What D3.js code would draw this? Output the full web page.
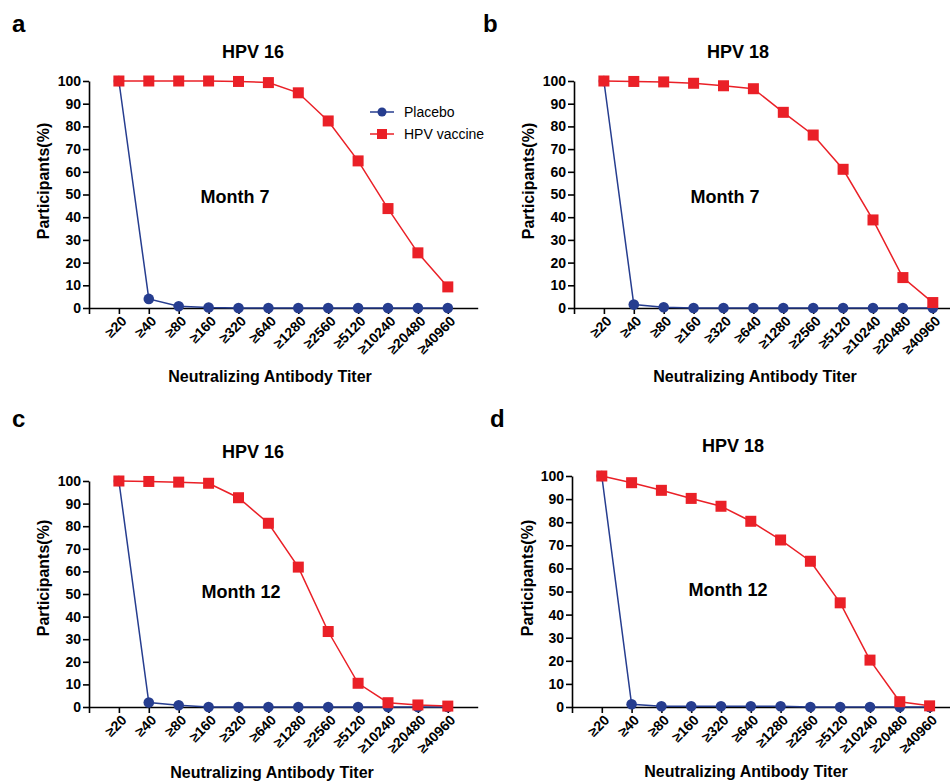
<!DOCTYPE html>
<html><head><meta charset="utf-8">
<script src="https://cdn.jsdelivr.net/npm/d3@7"></script>
<style>body{margin:0;background:#fff}svg{display:block}text{font-family:"Liberation Sans",Arial,sans-serif}</style>
</head><body>
<svg id="c" width="950" height="781"></svg>
<script>
const categories = ["≥20","≥40","≥80","≥160","≥320","≥640","≥1280","≥2560","≥5120","≥10240","≥20480","≥40960"];
const yTicks = [0,10,20,30,40,50,60,70,80,90,100];
const seriesNames = ["Placebo","HPV vaccine"];
const placeboA = [100,4,0.8,0.2,0,0,0,0,0,0,0,0];
const vaccineA = [100,100,100,100,99.8,99.3,94.8,82.4,64.8,43.8,24.3,9.3];
const placeboB = [100,1.5,0.3,0,0,0,0,0,0,0,0,0];
const vaccineB = [100,99.8,99.6,99,97.9,96.6,86.2,76.2,61.1,38.8,13.4,2.4];
const placeboC = [100,2,0.8,0,0,0,0,0,0,0,0,0];
const vaccineC = [100,99.8,99.5,99,92.6,81.3,61.9,33.4,10.5,1.9,0.9,0.4];
const placeboD = [100,1.2,0.3,0.3,0.3,0.3,0.3,0,0,0,0,0];
const vaccineD = [100,97.1,93.8,90.3,86.9,80.4,72.3,63.1,45.1,20.3,2.3,0.5];

const panels = [
  {letter:"a", title:"HPV 16", month:"Month 7", placebo:placeboA, vaccine:vaccineA, legend:true,
   ax:89, y0:308, y100:81, step:29.9, lx:12, ly:32, tx:253, ty:58, mx:235, my:203, xlx:270, xly:382, ylx:43, yly:181},
  {letter:"b", title:"HPV 18", month:"Month 7", placebo:placeboB, vaccine:vaccineB, legend:false,
   ax:574, y0:308, y100:81, step:29.9, lx:483, ly:32, tx:738, ty:58, mx:725, my:203, xlx:755, xly:382, ylx:528, yly:181},
  {letter:"c", title:"HPV 16", month:"Month 12", placebo:placeboC, vaccine:vaccineC, legend:false,
   ax:89, y0:707, y100:481, step:29.9, lx:12, ly:427, tx:253, ty:458, mx:241, my:598, xlx:272, xly:778, ylx:43, yly:578},
  {letter:"d", title:"HPV 18", month:"Month 12", placebo:placeboD, vaccine:vaccineD, legend:false,
   ax:572, y0:707, y100:476, step:29.8, lx:490, ly:427, tx:733, ty:452, mx:728, my:596, xlx:746, xly:777, ylx:527, yly:578}
];
const BLUE = "#263d8f", RED = "#ea2027";
const svg = d3.select("#c");

panels.forEach(p => {
  const g = svg.append("g");
  const x = d3.scaleLinear().domain([0, 13]).range([p.ax, p.ax + 13*p.step]);
  const y = d3.scaleLinear().domain([0, 100]).range([p.y0, p.y100]);
  const xi = i => x(i+1);

  const yAxis = d3.axisLeft(y).tickValues(yTicks).tickSize(6).tickPadding(2).tickSizeOuter(0);
  const gy = g.append("g").attr("transform", `translate(${p.ax},0)`).call(yAxis);
  gy.select(".domain").attr("stroke","#000").attr("stroke-width",1.6);
  gy.selectAll(".tick line").attr("stroke","#000").attr("stroke-width",1.6);
  gy.selectAll(".tick text").attr("font-size",14).attr("font-weight","bold").attr("fill","#000");

  const xAxis = d3.axisBottom(x).tickValues(d3.range(0,13)).tickSize(6).tickSizeOuter(0).tickFormat(d => d===0 ? "" : categories[d-1]);
  const gx = g.append("g").attr("transform", `translate(0,${p.y0})`).call(xAxis);
  gx.select(".domain").attr("stroke","#000").attr("stroke-width",1.6);
  gx.selectAll(".tick line").attr("stroke","#000").attr("stroke-width",1.6);
  gx.selectAll(".tick text").attr("font-size",14).attr("font-weight","bold").attr("fill","#000")
    .attr("text-anchor","end").attr("y",0).attr("dy",0)
    .attr("transform","translate(8,14) rotate(-45)");

  const line = d3.line().x((d,i)=>xi(i)).y(d=>y(d));
  g.append("path").datum(p.placebo).attr("d",line).attr("fill","none").attr("stroke",BLUE).attr("stroke-width",1.5);
  g.selectAll(".pc").data(p.placebo).join("circle").attr("cx",(d,i)=>xi(i)).attr("cy",d=>y(d)).attr("r",5.3).attr("fill",BLUE);
  g.append("path").datum(p.vaccine).attr("d",line).attr("fill","none").attr("stroke",RED).attr("stroke-width",1.5);
  g.selectAll(".vs").data(p.vaccine).join("rect").attr("x",(d,i)=>xi(i)-5.5).attr("y",d=>y(d)-5.5).attr("width",11).attr("height",11).attr("fill",RED);

  g.append("text").attr("x",p.lx).attr("y",p.ly).attr("font-size",24).attr("font-weight","bold").text(p.letter);
  g.append("text").attr("x",p.tx).attr("y",p.ty).attr("text-anchor","middle").attr("font-size",18).attr("font-weight","bold").text(p.title);
  g.append("text").attr("x",p.mx).attr("y",p.my).attr("text-anchor","middle").attr("font-size",18).attr("font-weight","bold").text(p.month);
  g.append("text").attr("x",p.xlx).attr("y",p.xly).attr("text-anchor","middle").attr("font-size",16).attr("font-weight","bold").text("Neutralizing Antibody Titer");
  g.append("text").attr("transform",`translate(${p.ylx},${p.yly}) rotate(-90)`).attr("dy","0.35em").attr("text-anchor","middle").attr("font-size",16).attr("font-weight","bold").text("Participants(%)");

  if (p.legend) {
    const lg = g.append("g").attr("transform","translate(370,112)");
    seriesNames.forEach((n,k) => {
      const row = lg.append("g").attr("transform",`translate(0,${k*22})`);
      const col = k===0 ? BLUE : RED;
      row.append("line").attr("x1",0).attr("x2",24).attr("stroke",col).attr("stroke-width",1.5);
      if (k===0) row.append("circle").attr("cx",12).attr("r",4.5).attr("fill",col);
      else row.append("rect").attr("x",7).attr("y",-5).attr("width",10).attr("height",10).attr("fill",col);
      row.append("text").attr("x",34).attr("dy","0.35em").attr("font-size",14).text(n);
    });
  }
});
</script>
</body></html>
